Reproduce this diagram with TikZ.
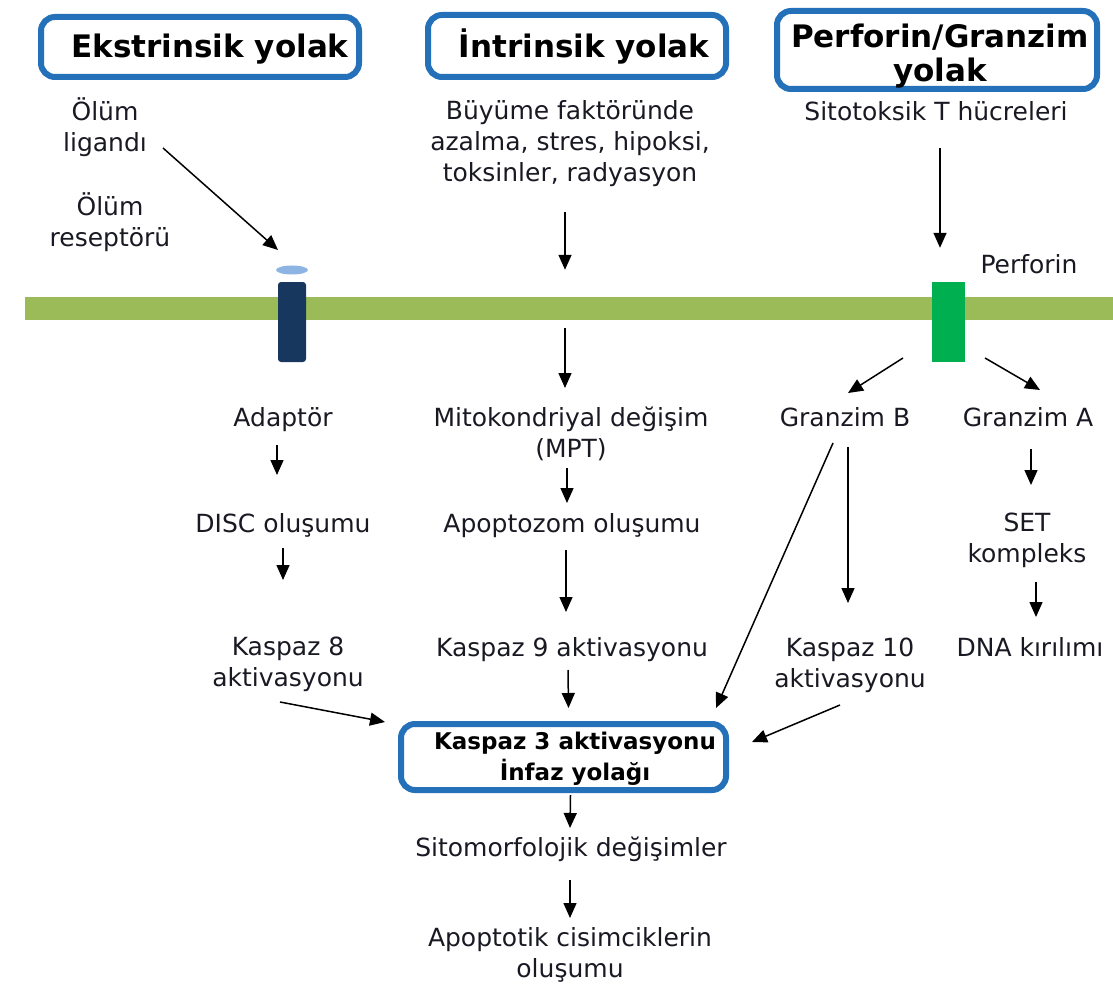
\documentclass[tikz,border=0pt]{standalone}
\usepackage{fontspec}
\setmainfont{DejaVu Sans}
\usetikzlibrary{arrows.meta,calc,shapes.geometric}
\definecolor{boxblue}{RGB}{36,113,186}
\definecolor{memgreen}{RGB}{155,187,89}
\definecolor{recnavy}{RGB}{23,55,94}
\definecolor{recsite}{RGB}{141,180,226}
\definecolor{perfgreen}{RGB}{0,176,80}
\definecolor{txt}{RGB}{25,25,35}
\tikzset{
  lbl/.style={font=\fontsize{25}{31}\selectfont, text=txt, align=center, inner sep=0pt, anchor=base},
  head/.style={font=\fontsize{31}{34}\selectfont\bfseries, text=black, align=center, inner sep=0pt, anchor=base},
  headsm/.style={font=\fontsize{23}{31}\selectfont\bfseries, text=black, align=center, inner sep=0pt, anchor=base},
  pathbox/.style={draw=boxblue, line width=6pt, rounded corners=14pt, inner sep=0pt},
  arr/.style={line width=1.5pt, -{Triangle[length=15pt,width=13pt]}}
}
\begin{document}
\begin{tikzpicture}[x=1pt,y=-1pt]
\useasboundingbox (0,0) rectangle (1113,984);

% heading boxes
\node[pathbox, minimum width=318pt, minimum height=60pt] (bext) at (200,47) {};
\node[head] (text) at (210,58) {Ekstrinsik yolak};
\node[pathbox, minimum width=298pt, minimum height=62pt] (bint) at (577,46) {};
\node[head] (tint) at (584,58) {İntrinsik yolak};
\node[pathbox, minimum width=320pt, minimum height=78pt] (bpg) at (937,50) {};
\node[head] (tpg) at (940,82) {Perforin/Granzim\\yolak};

% top labels (base = baseline of last line)
\node[lbl] (ligand) at (105,152) {Ölüm\\ligandı};
\node[lbl] (reclbl) at (110,247) {Ölüm\\reseptörü};
\node[lbl] (causes) at (570,182) {Büyüme faktöründe\\azalma, stres, hipoksi,\\toksinler, radyasyon};
\node[lbl] (ctl) at (936,121) {Sitotoksik T hücreleri};
\node[lbl] (perflbl) at (1029,273) {Perforin};

% membrane and proteins
\node[fill=memgreen, minimum width=1088pt, minimum height=23pt, inner sep=0pt] (mem) at (569,308.5) {};
\node[fill=recsite, ellipse, minimum width=32pt, minimum height=9pt, inner sep=0pt] (site) at (292,270) {};
\node[fill=recnavy, rounded corners=3pt, minimum width=28pt, minimum height=80pt, inner sep=0pt] (rec) at (292,322) {};
\node[fill=perfgreen, minimum width=33pt, minimum height=80pt, inner sep=0pt] (pch) at (948.5,322) {};

% lower labels
\node[lbl] (adaptor) at (283,426) {Adaptör};
\node[lbl] (mito) at (571,457) {Mitokondriyal değişim\\(MPT)};
\node[lbl] (gzb) at (845,426) {Granzim B};
\node[lbl] (gza) at (1028,426) {Granzim A};
\node[lbl] (disc) at (283,532) {DISC oluşumu};
\node[lbl] (apop) at (572,532) {Apoptozom oluşumu};
\node[lbl] (set) at (1027,562) {SET\\kompleks};
\node[lbl] (k8) at (288,686) {Kaspaz 8\\aktivasyonu};
\node[lbl] (k9) at (572,656) {Kaspaz 9 aktivasyonu};
\node[lbl] (k10) at (850,687) {Kaspaz 10\\aktivasyonu};
\node[lbl] (dna) at (1030,656) {DNA kırılımı};

\node[pathbox, minimum width=325pt, minimum height=66pt] (k3box) at (563.5,757) {};
\node[headsm] (k3) at (575,780) {Kaspaz 3 aktivasyonu\\İnfaz yolağı};

\node[lbl] (sito) at (571,856) {Sitomorfolojik değişimler};
\node[lbl] (apbody) at (570,977) {Apoptotik cisimciklerin\\oluşumu};

% connectors
\draw[arr] ($(ligand.base)+(58,-4)$) -- ($(site.center)+(-14,-20)$);
\draw[arr] ($(causes.base)+(-5,30)$) -- ($(mem.north)+(-4,-27)$);
\draw[arr] ($(mem.south)+(-4,8)$) -- ($(mito.base)+(-6,-69)$);
\draw[arr] ($(ctl.base)+(4,27)$) -- ($(pch.north)+(-8.5,-34)$);
\draw[arr] ($(pch.center)+(-45.5,36)$) -- ($(gzb.base)+(3,-33)$);
\draw[arr] ($(pch.center)+(36.5,36)$) -- ($(gza.base)+(12,-36)$);
\draw[arr] ($(adaptor.base)+(-6,19)$) -- ($(disc.base)+(-6,-57)$);
\draw[arr] ($(disc.base)+(0,16)$) -- ($(k8.base)+(-5,-106)$);
\draw[arr] ($(k8.base)+(-8,16)$) -- ($(k3box.west)+(-13,-35)$);
\draw[arr] ($(mito.base)+(-4,11)$) -- ($(apop.base)+(-5,-29)$);
\draw[arr] ($(apop.base)+(-6,18)$) -- ($(k9.base)+(-6,-44)$);
\draw[arr] ($(k9.base)+(-4,14)$) -- ($(k3box.north)+(5,-13)$);
\draw[arr] ($(gzb.base)+(-12,17)$) -- ($(k3box.north east)+(-13,-13)$);
\draw[arr] ($(gzb.base)+(3,21)$) -- ($(k10.base)+(-2,-84)$);
\draw[arr] ($(k10.base)+(-10,18)$) -- ($(k3box.east)+(23,-15)$);
\draw[arr] ($(gza.base)+(3,23)$) -- ($(set.base)+(4,-77)$);
\draw[arr] ($(set.base)+(9,20)$) -- ($(dna.base)+(6,-39)$);
\draw[arr] ($(k3box.south)+(7,2)$) -- ($(sito.base)+(-1,-28)$);
\draw[arr] ($(sito.base)+(-1,24)$) -- ($(apbody.base)+(0,-59)$);
\end{tikzpicture}
\end{document}
